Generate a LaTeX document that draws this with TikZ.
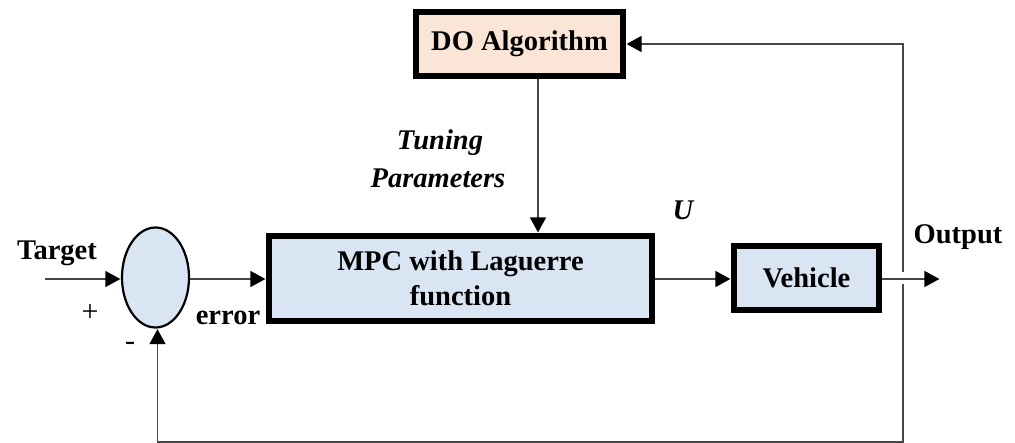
\documentclass[tikz,border=0pt]{standalone}
\usepackage{fontspec}
\setmainfont{Liberation Serif}
\usetikzlibrary{arrows.meta,shapes.geometric}

\definecolor{blockblue}{RGB}{218,229,243}
\definecolor{blockpeach}{RGB}{251,229,214}
\definecolor{wire}{RGB}{70,70,70}

\tikzset{
  block/.style={draw=black, line width=3pt, fill=blockblue, inner sep=0pt,
    align=center, font=\fontsize{14.25}{17.5}\selectfont\bfseries},
  sumnode/.style={draw=black, line width=1.1pt, fill=blockblue, ellipse, inner sep=0pt,
    minimum width=33.5pt, minimum height=50pt},
  conn/.style={draw=wire, line width=0.75pt},
  arr/.style={conn, -{Triangle[length=7.5pt,width=8pt,fill=black,color=black]}, shorten >=0.3pt},
  lbl/.style={font=\fontsize{14.25}{17.5}\selectfont\bfseries, inner sep=0pt},
  lbli/.style={font=\fontsize{14.25}{17.5}\selectfont\bfseries\itshape, inner sep=0pt},
}

\begin{document}
\begin{tikzpicture}[x=0.5pt,y=0.5pt,yscale=-1]
\useasboundingbox (0,0) rectangle (1015,443);

% blocks
\node (do) at (519.5,44) [block, fill=blockpeach, minimum width=103.5pt, minimum height=32pt] {DO Algorithm};
\node (mpc) at (460.5,278.5) [block, minimum width=191.5pt, minimum height=42.5pt] {MPC with Laguerre\\function};
\node (veh) at (806.5,278) [block, minimum width=72.5pt, minimum height=32pt] {Vehicle};
\node (sum) at (155.5,277.5) [sumnode] {};

% free ends and taps
\coordinate (in) at (45,279);
\coordinate (out) at (940,279);
\coordinate (tp) at (538,150);
\coordinate (fb) at (903,279);
\coordinate (bot) at (903,442);

% forward path
\draw[arr] (in) -- (in -| sum.west);
\draw[arr] (sum.east |- in) -- (in -| mpc.west);
\draw[arr] (mpc.east |- in) -- (in -| veh.west);
\draw[arr] (veh.east |- out) -- (out);

% tuning from the optimiser
\draw[arr] (tp |- do.south) -- (tp |- mpc.north);

% output fed back
\draw[arr] ([yshift=-3.5pt]fb) |- (do.east);
\draw[arr] ([yshift=2.5pt]fb) -- (bot) -| ([xshift=1pt]sum.south);

% Text Node
\node (ltarget) at (57,253) [lbl] {Target};
\node (lplus) at (90,313) [inner sep=0pt, font=\fontsize{15}{17.5}\selectfont] {+};
\node (lminus) at (130,346) [inner sep=0pt, font=\fontsize{15}{17.5}\selectfont] {-};
\node (lerror) at (228,318) [lbl] {error};
\node (ltune) at (440,143) [lbli] {Tuning};
\node (lparam) at (438,178) [lbli] {Parameters};
\node (lu) at (683,210) [lbli] {U};
\node (lout) at (958,237) [lbl] {Output};
\end{tikzpicture}
\end{document}
